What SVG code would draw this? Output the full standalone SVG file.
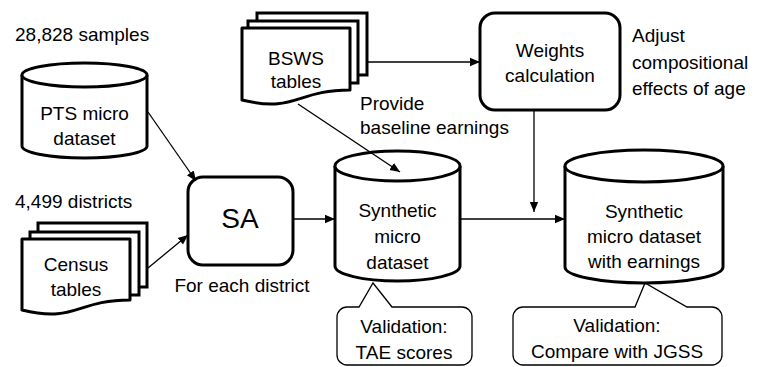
<svg xmlns="http://www.w3.org/2000/svg" width="758" height="367" viewBox="0 0 758 367">
<defs>
<style>
.n{fill:#fff;stroke:#000;stroke-width:3;stroke-linejoin:round}
.b{fill:none;stroke:#000;stroke-width:3;stroke-linejoin:miter}
.c{fill:#fff;stroke:#000;stroke-width:1.3}
.e{fill:none;stroke:#000;stroke-width:1.3}
text{font-family:"Liberation Sans",Arial,sans-serif;font-size:19px;fill:#000}
.m{text-anchor:middle}
</style>
<marker id="ah" viewBox="0 0 10 10" refX="10" refY="5" markerWidth="10" markerHeight="10" markerUnits="userSpaceOnUse" orient="auto">
<path d="M0,0.8 L10,5 L0,9.2 Z" fill="#000"/>
</marker>
</defs>
<rect width="758" height="367" fill="#fff"/>

<g id="pts">
<path class="n" d="M22,75 V146 A62.5,12 0 0 0 147,146 V75"/>
<ellipse class="n" cx="84.5" cy="75" rx="62.5" ry="12"/>
<text class="m" x="84.5" y="120">PTS micro</text>
<text class="m" x="84.5" y="145">dataset</text>
</g>
<text id="lbl-samples" x="15" y="41">28,828 samples</text>

<g id="census">
<path class="b" d="M38,232 V223 H147 V287 H139"/>
<path class="b" d="M30,239 V232 H139 V295 H130"/>
<path class="n" d="M22,239 H130 V300 C76,300 76,323 22,310 Z"/>
<text class="m" x="76" y="271">Census</text>
<text class="m" x="76" y="296">tables</text>
</g>
<text id="lbl-districts" x="15" y="208">4,499 districts</text>

<g id="bsws">
<path class="b" d="M257,21 V13 H367 V75 H358"/>
<path class="b" d="M248,28 V21 H358 V83 H350"/>
<path class="n" d="M242,28 H350 V90 C296,90 296,113 242,100 Z"/>
<text class="m" x="296" y="65">BSWS</text>
<text class="m" x="296" y="88">tables</text>
</g>

<g id="sa">
<rect class="n" x="188" y="177" width="105" height="88" rx="15"/>
<text class="m" x="240" y="228" style="font-size:28px">SA</text>
</g>
<text id="lbl-foreach" class="m" x="242" y="292">For each district</text>

<g id="weights">
<rect class="n" x="480" y="13" width="140" height="97" rx="15"/>
<text class="m" x="550" y="57">Weights</text>
<text class="m" x="550" y="82">calculation</text>
</g>
<g id="lbl-adjust">
<text x="632" y="42">Adjust</text>
<text x="632" y="69">compositional</text>
<text x="632" y="95">effects of age</text>
</g>

<g id="val1">
<path class="c" d="M347,307 H359 L373,283 L392,307 H462 A10,10 0 0 1 472,317 V355 A10,10 0 0 1 462,365 H347 A10,10 0 0 1 337,355 V317 A10,10 0 0 1 347,307 Z"/>
<text class="m" x="404" y="333">Validation:</text>
<text class="m" x="404" y="359">TAE scores</text>
</g>

<g id="val2">
<path class="c" d="M523,307 H635 L645,283 L687,307 H712 A10,10 0 0 1 722,317 V355 A10,10 0 0 1 712,365 H523 A10,10 0 0 1 513,355 V317 A10,10 0 0 1 523,307 Z"/>
<text class="m" x="617" y="332">Validation:</text>
<text class="m" x="617" y="358">Compare with JGSS</text>
</g>

<g id="synth">
<path class="n" d="M335,166 V266 A62.5,15 0 0 0 460,266 V166"/>
<ellipse class="n" cx="397.5" cy="166" rx="62.5" ry="15"/>
<text class="m" x="397.5" y="217">Synthetic</text>
<text class="m" x="397.5" y="243">micro</text>
<text class="m" x="397.5" y="269">dataset</text>
</g>

<g id="synth-earn">
<path class="n" d="M565,166 V267 A79,16 0 0 0 723,267 V166"/>
<ellipse class="n" cx="644" cy="166" rx="79" ry="16"/>
<text class="m" x="644" y="218">Synthetic</text>
<text class="m" x="644" y="243">micro dataset</text>
<text class="m" x="644" y="268">with earnings</text>
</g>

<g id="connectors">
<line class="e" x1="148" y1="112" x2="196" y2="181" marker-end="url(#ah)"/>
<line class="e" x1="148" y1="268" x2="188" y2="235" marker-end="url(#ah)"/>
<line class="e" x1="293" y1="219" x2="335" y2="219" marker-end="url(#ah)"/>
<line class="e" x1="367" y1="62" x2="480" y2="62" marker-end="url(#ah)"/>
<line class="e" x1="298" y1="104" x2="400" y2="172" marker-end="url(#ah)"/>
<line class="e" x1="534" y1="110" x2="534" y2="212" marker-end="url(#ah)"/>
<line class="e" x1="460" y1="219" x2="565" y2="219" marker-end="url(#ah)"/>
</g>
<g id="lbl-provide">
<text x="360" y="110">Provide</text>
<text x="360" y="134">baseline earnings</text>
</g>
</svg>
